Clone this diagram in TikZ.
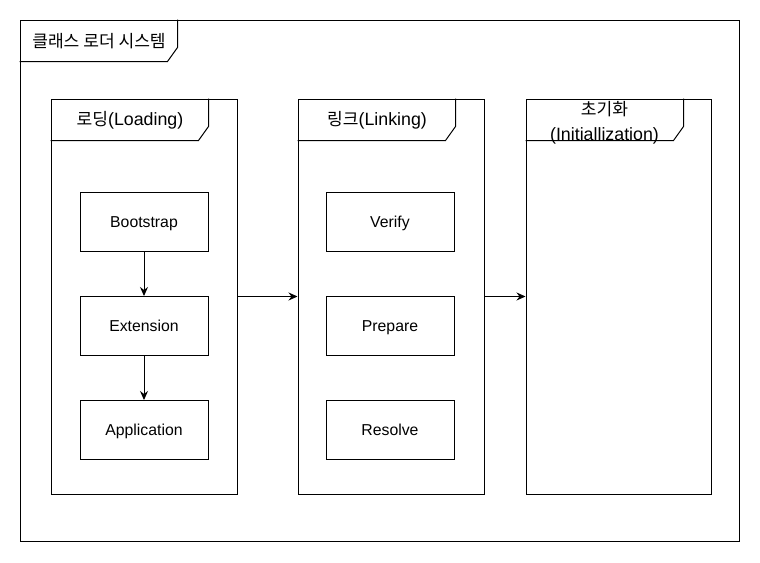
\documentclass[tikz,border=0pt]{standalone}
\usepackage{fontspec}
\setmainfont{Liberation Sans}
\newfontfamily\kr[Scale=0.96]{Noto Sans CJK KR}
\usetikzlibrary{arrows.meta}

\begin{document}
\begin{tikzpicture}[x=1pt,y=-1pt,
    frame/.style={draw,line width=1pt,minimum width=186pt,minimum height=395pt,inner sep=0pt},
    box/.style={draw,line width=1pt,minimum width=128pt,minimum height=59pt,text height=11.4pt,text depth=0pt,font=\fontsize{15.8}{18}\selectfont},
    tab/.style={font=\fontsize{17.8}{25}\selectfont,align=center},
    arr/.style={line width=1pt,-{Stealth[length=9pt,width=8pt,inset=3pt]}}]
    \useasboundingbox (0,0) rectangle (760,562);
    % outer system frame
    \node[frame,minimum width=719pt,minimum height=521pt] (sys) at (379.5,280.5) {};
    \draw[line width=1pt] (sys.north west) ++(158,0) -- ++(0,28) -- ++(-10,14) -- ++(-148,0);
    \node[tab] (systab) at (99,41) {\kr 클래스 로더 시스템};
    % three stages
    \node[frame] (load) at (144,296.5) {};
    \node[frame] (link) at (391,296.5) {};
    \node[frame,minimum width=185pt] (init) at (618.5,296.5) {};
    \foreach \f in {load,link,init}
      \draw[line width=1pt] (\f.north west) ++(158,0) -- ++(0,28) -- ++(-10,14) -- ++(-148,0);
    \node[tab] (loadtab) at (130,120) {{\kr 로딩}(Loading)};
    \node[tab] (linktab) at (377,120) {{\kr 링크}(Linking)};
    \node[tab] (inittab) at (604.5,123) {{\kr 초기화}\\(Initiallization)};
    % class loaders
    \node[box] (boot) at (144,222) {Bootstrap};
    \node[box] (ext) at (144,326) {Extension};
    \node[box] (app) at (144,430) {Application};
    \draw[arr] (boot) -- (ext);
    \draw[arr] (ext) -- (app);
    % linking steps
    \node[box] (verify) at (390,222) {Verify};
    \node[box] (prep) at (390,326) {Prepare};
    \node[box] (resolve) at (390,430) {Resolve};
    \draw[arr] (load.east) -- (link.west);
    \draw[arr] (link.east) -- (init.west);
\end{tikzpicture}
\end{document}
